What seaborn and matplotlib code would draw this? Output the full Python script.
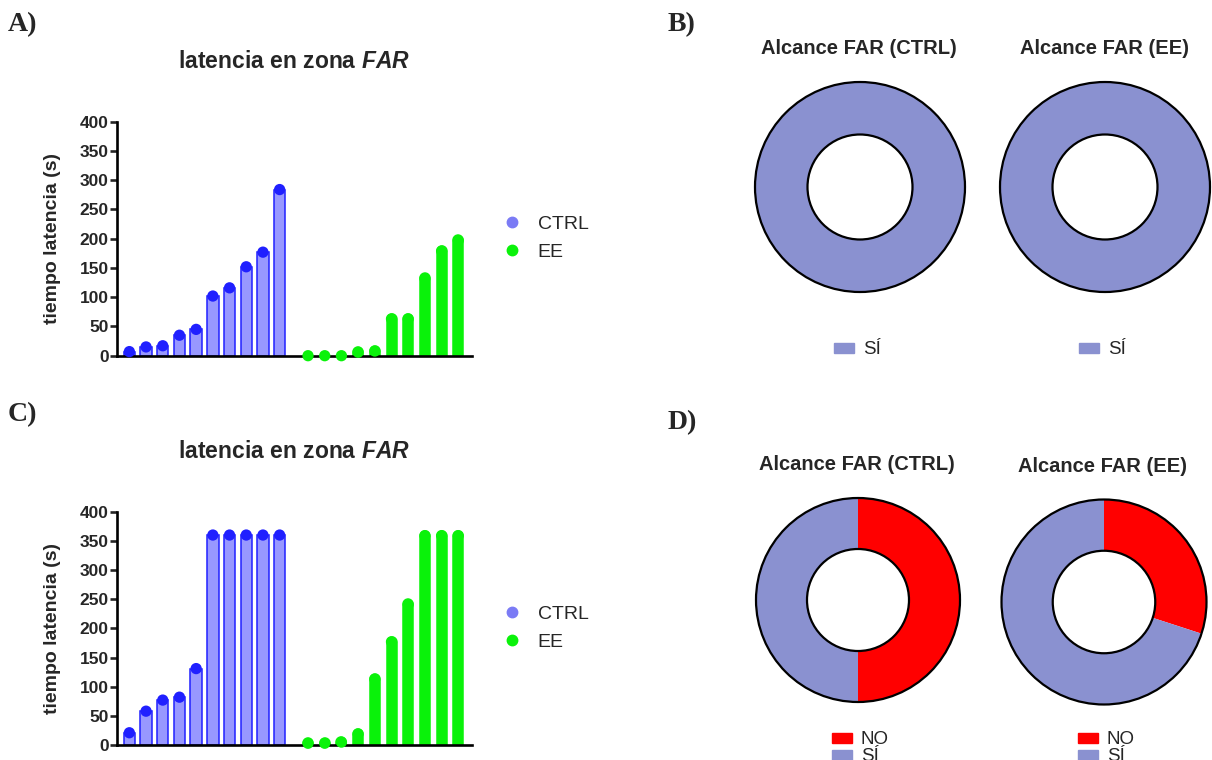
import numpy as np
import pandas as pd
import matplotlib
matplotlib.use('Agg')
import matplotlib.pyplot as plt
import seaborn as sns
from matplotlib.lines import Line2D
from matplotlib.patches import Patch, Circle

# data
groups = ['CTRL', 'EE']
lat_a_ctrl = [7, 15, 17, 35, 45, 102, 116, 152, 177, 284]
lat_a_ee = [0, 0, 0, 6, 8, 63, 63, 132, 179, 197]
lat_c_ctrl = [21, 58, 77, 82, 131, 360, 360, 360, 360, 360]
lat_c_ee = [3, 3, 5, 19, 113, 177, 241, 359, 359, 359]
y_ticks = [0, 50, 100, 150, 200, 250, 300, 350, 400]

pie_labels = ['NO', 'SÍ']
reach_b_ctrl = [0, 10]
reach_b_ee = [0, 10]
reach_d_ctrl = [5, 5]
reach_d_ee = [3, 7]

BLUE = '#2020ff'
BLUE_BAR = (0.38, 0.38, 1.0, 0.65)
BLUE_LEG = '#7b7bf5'
GREEN = '#0af20a'
RED = '#ff0000'
PURPLE = '#8a91d0'

sns.set_style('white')
plt.rcParams['font.family'] = ['Liberation Sans', 'DejaVu Sans']
plt.rcParams['mathtext.fontset'] = 'custom'
plt.rcParams['mathtext.it'] = 'Liberation Sans:italic:bold'
plt.rcParams['mathtext.rm'] = 'Liberation Sans:bold'

W, H = 1212, 760
fig = plt.figure(figsize=(W / 100, H / 100), dpi=100)


def px_axes(left, top, right, bottom):
    return fig.add_axes([left / W, 1 - bottom / H, (right - left) / W, (bottom - top) / H])


def latency_panel(top, bottom, ctrl, ee, title_y, leg_y):
    ax = px_axes(117, top, 472, bottom)
    x_ctrl = np.arange(len(ctrl))
    x_ee = np.arange(len(ee)) + 10.7
    df = pd.DataFrame({
        'x': np.concatenate([x_ctrl, x_ee]),
        'latencia': ctrl + ee,
        'grupo': ['CTRL'] * len(ctrl) + ['EE'] * len(ee),
    })
    # CTRL: translucent bars, EE: solid rounded bars
    ax.bar(x_ctrl, ctrl, width=0.68, color=BLUE_BAR, edgecolor=BLUE, linewidth=1.1)
    ax.vlines(x_ee, 0, ee, colors=GREEN, linewidth=8.3, capstyle='round')
    sns.scatterplot(data=df, x='x', y='latencia', hue='grupo',
                    palette={'CTRL': BLUE, 'EE': GREEN}, s=66, linewidth=0,
                    legend=False, clip_on=False, zorder=5, ax=ax)
    ax.set_xlim(-0.74, 20.52)
    ax.set_ylim(0, 400)
    ax.set_yticks(y_ticks)
    ax.set_xticks([])
    ax.set_xlabel('')
    ax.set_ylabel('tiempo latencia (s)', fontsize=14, fontweight='bold')
    ax.yaxis.set_label_coords(-0.158, 0.5)
    for s in ['top', 'right']:
        ax.spines[s].set_visible(False)
    for s in ['left', 'bottom']:
        ax.spines[s].set_linewidth(1.9)
        ax.spines[s].set_color('black')
    ax.tick_params(axis='y', length=5, width=1.9, direction='out', left=True,
                   labelsize=12.5, pad=1)
    for t in ax.get_yticklabels():
        t.set_fontweight('bold')
    fig.text(294 / W, 1 - title_y / H, 'latencia en zona $\\mathit{FAR}$',
             ha='center', va='center', fontsize=16.5, fontweight='bold')
    handles = [Line2D([], [], marker='o', ls='', color=BLUE_LEG, markersize=7.5),
               Line2D([], [], marker='o', ls='', color=GREEN, markersize=7.5)]
    fig.legend(handles, groups, loc='center left',
               bbox_to_anchor=(493 / W, 1 - leg_y / H), frameon=False,
               fontsize=14, handlelength=1, handletextpad=0.8, labelspacing=0.55,
               borderpad=0)
    return ax


def donut(cx, cy, r, counts, leg_top, labels_shown):
    ax = px_axes(cx - 1.1 * r, cy - 1.1 * r, cx + 1.1 * r, cy + 1.1 * r)
    ax.pie(counts, colors=[RED, PURPLE], startangle=90, counterclock=False,
           radius=1.0, wedgeprops=dict(width=0.5, linewidth=0))
    ax.add_patch(Circle((0, 0), 1.0, fill=False, ec='black', lw=1.6))
    ax.add_patch(Circle((0, 0), 0.5, fill=False, ec='black', lw=1.6))
    ax.set_xlim(-1.1, 1.1)
    ax.set_ylim(-1.1, 1.1)
    ax.set_aspect('equal')
    ax.axis('off')
    handles = [Patch(color=RED if lab == 'NO' else PURPLE) for lab in labels_shown]
    fig.legend(handles, labels_shown, loc='upper left',
               bbox_to_anchor=((cx - 35) / W, 1 - leg_top / H), frameon=False,
               fontsize=13.5, handlelength=1.07, handleheight=0.43,
               handletextpad=0.45, labelspacing=0.0, borderpad=0)
    return ax


latency_panel(121.7, 355.7, lat_a_ctrl, lat_a_ee, 62, 238)
latency_panel(511.7, 745, lat_c_ctrl, lat_c_ee, 452, 628)

donut(860, 187, 105, reach_b_ctrl, 332, ['SÍ'])
donut(1105, 187, 105, reach_b_ee, 332, ['SÍ'])
donut(858, 600, 102, reach_d_ctrl, 722, pie_labels)
donut(1104, 602, 102.5, reach_d_ee, 722, pie_labels)

for x, y, txt in [(859, 48, 'Alcance FAR (CTRL)'), (1105, 48, 'Alcance FAR (EE)'),
                  (857, 465, 'Alcance FAR (CTRL)'), (1103, 466, 'Alcance FAR (EE)')]:
    fig.text(x / W, 1 - y / H, txt, ha='center', va='center', fontsize=14.5,
             fontweight='bold')

for x, y, txt in [(8, 25, 'A)'), (668, 25, 'B)'), (8, 415, 'C)'), (668, 423, 'D)')]:
    fig.text(x / W, 1 - y / H, txt, ha='left', va='center', fontsize=20,
             fontweight='bold', family=['Liberation Serif', 'DejaVu Serif'])

fig.savefig('out.png', dpi=100)
